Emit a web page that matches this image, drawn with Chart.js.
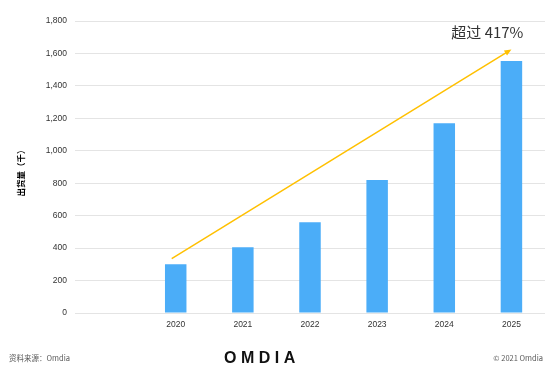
<!DOCTYPE html>
<html>
<head>
<meta charset="utf-8">
<script src="https://cdn.jsdelivr.net/npm/chart.js@4.4.0/dist/chart.umd.min.js"></script>
<style>
  html, body { margin: 0; padding: 0; background: #fff; }
  #wrap { position: relative; width: 550px; height: 378px; }
  canvas { position: absolute; left: 0; top: 0; }
  .foot { position: absolute; font-family: "Noto Sans CJK SC", "Liberation Sans", sans-serif; font-size: 7.5px; color: #595959; line-height: 10px; }
  #logo { position: absolute; left: 224px; top: 348px; font-family: "Liberation Sans", Arial, sans-serif; font-weight: bold; font-size: 16px; letter-spacing: 4.5px; color: #111; line-height: 20px; }
</style>
</head>
<body>
<div id="wrap">
  <canvas id="c" width="550" height="378"></canvas>
  <div class="foot" style="left:9px; top:353px;">资料来源：Omdia</div>
  <div id="logo">OMDIA</div>
  <div class="foot" style="right:7px; top:353px;">© 2021 Omdia</div>
</div>
<script>
const categories = ['', '2020', '2021', '2022', '2023', '2024', '2025'];
const shipments = [null, 300, 405, 560, 820, 1170, 1553];
const yTicks = [0, 200, 400, 600, 800, 1000, 1200, 1400, 1600, 1800];
const yTitle = '出货量（千）';
const growthLabel = '超过 417%';
const arrowFrom = ['2020', 335];
const arrowTo = ['2025', 1625];

const overlay = {
  id: 'overlay',
  afterDatasetsDraw(chart) {
    const ctx = chart.ctx;
    const xs = chart.scales.x, ys = chart.scales.y;
    const x1 = xs.getPixelForValue(categories.indexOf(arrowFrom[0])) - 4;
    const y1 = ys.getPixelForValue(arrowFrom[1]);
    const x2 = xs.getPixelForValue(categories.indexOf(arrowTo[0]));
    const y2 = ys.getPixelForValue(arrowTo[1]);
    const ang = Math.atan2(y2 - y1, x2 - x1);
    const hl = 7, hw = 3;
    ctx.save();
    ctx.strokeStyle = '#FFC000';
    ctx.fillStyle = '#FFC000';
    ctx.lineWidth = 1.5;
    ctx.beginPath();
    ctx.moveTo(x1, y1);
    ctx.lineTo(x2 - Math.cos(ang) * hl * 0.8, y2 - Math.sin(ang) * hl * 0.8);
    ctx.stroke();
    ctx.beginPath();
    ctx.moveTo(x2, y2);
    ctx.lineTo(x2 - Math.cos(ang) * hl - Math.sin(ang) * hw, y2 - Math.sin(ang) * hl + Math.cos(ang) * hw);
    ctx.lineTo(x2 - Math.cos(ang) * hl + Math.sin(ang) * hw, y2 - Math.sin(ang) * hl - Math.cos(ang) * hw);
    ctx.closePath();
    ctx.fill();

    // growth label
    ctx.fillStyle = '#333333';
    ctx.font = '15px "Noto Sans CJK SC", sans-serif';
    ctx.textAlign = 'right';
    ctx.textBaseline = 'middle';
    ctx.fillText(growthLabel, x2 + 12, y2 - 17);

    // y title
    ctx.translate(20.5, 171);
    ctx.rotate(-Math.PI / 2);
    ctx.fillStyle = '#000';
    ctx.font = 'bold 8.5px "Noto Sans CJK SC", sans-serif';
    ctx.textAlign = 'center';
    ctx.fillText(yTitle, 0, 0);
    ctx.restore();
  }
};

new Chart(document.getElementById('c'), {
  type: 'bar',
  data: {
    labels: categories,
    datasets: [{
      data: shipments,
      backgroundColor: '#4BADF8',
      borderWidth: 0,
      barPercentage: 0.64,
      categoryPercentage: 0.5
    }]
  },
  options: {
    responsive: false,
    animation: false,
    devicePixelRatio: 1,
    layout: { padding: { left: 0, right: 5, top: 21, bottom: 0 } },
    plugins: { legend: { display: false }, tooltip: { enabled: false } },
    scales: {
      x: {
        grid: { display: false, drawTicks: false },
        border: { display: false },
        ticks: { color: '#333333', font: { family: '"Liberation Sans", Arial, sans-serif', size: 8.5 }, padding: 7, maxRotation: 0 },
        afterFit(s) { s.height = 65; }
      },
      y: {
        min: 0, max: 1800,
        afterBuildTicks(s) { s.ticks = yTicks.map(v => ({ value: v })); },
        grid: { color: '#E4E4E4', lineWidth: 1, drawTicks: false },
        border: { display: false },
        ticks: {
          color: '#333333',
          font: { family: '"Liberation Sans", Arial, sans-serif', size: 8.5 },
          padding: 8,
          callback: v => v.toLocaleString('en-US')
        },
        afterFit(s) { s.width = 75; }
      }
    }
  },
  plugins: [overlay]
});
</script>
</body>
</html>
